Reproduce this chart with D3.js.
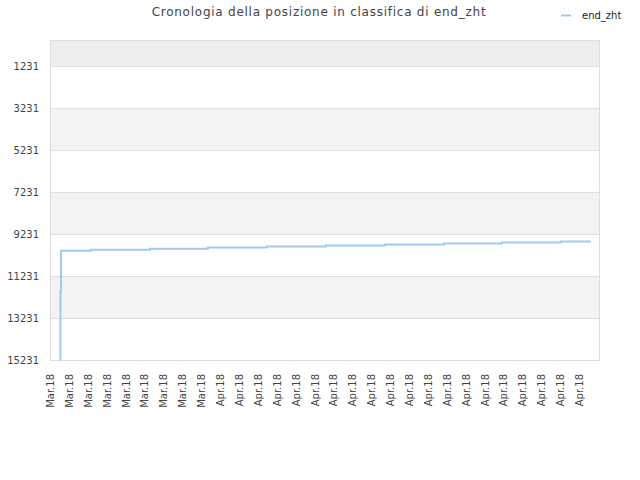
<!DOCTYPE html>
<html>
<head>
<meta charset="utf-8">
<script src="https://cdn.jsdelivr.net/npm/d3@7"></script>
<style>
  body { margin: 0; background: #fff; }
  svg { display: block; font-family: "DejaVu Sans", sans-serif; }
</style>
</head>
<body>
<svg id="chart" width="640" height="480"></svg>
<script>
// ---- data ----
const seriesName = "end_zht";
const titleText = "Cronologia della posizione in classifica di end_zht";
// x in days from first tick, rank value
const pointDays = [0.53, 0.55, 0.58, 2.17, 5.29, 8.36, 11.48, 14.60, 17.72, 20.85, 23.92, 27.04, 28.62];
const pointRanks = [15231, 11979, 10026, 9978, 9930, 9882, 9834, 9786, 9738, 9690, 9642, 9594, 9594];
const yTicks = [1231, 3231, 5231, 7231, 9231, 11231, 13231, 15231];
const xTickDays = d3.range(0, 29);
const xTickLabels = [
  "Mar.18","Mar.18","Mar.18","Mar.18","Mar.18","Mar.18","Mar.18","Mar.18","Mar.18",
  "Apr.18","Apr.18","Apr.18","Apr.18","Apr.18","Apr.18","Apr.18","Apr.18","Apr.18","Apr.18",
  "Apr.18","Apr.18","Apr.18","Apr.18","Apr.18","Apr.18","Apr.18","Apr.18","Apr.18","Apr.18"
];

(function () {
// ---- layout ----
const mLeft = 50, mRight = 600, mTop = 40, mBottom = 360;
const svg = d3.select("#chart");

const x = d3.scaleLinear().domain([0, 29.11]).range([mLeft, mRight]);
const y = d3.scaleLinear().domain([0, 15231]).range([mTop, mBottom]);

// bands
const bandEdges = [0].concat(yTicks);
const bands = [];
for (let i = 0; i < bandEdges.length - 1; i++) bands.push([bandEdges[i], bandEdges[i + 1], i]);
svg.append("g").selectAll("rect").data(bands).join("rect")
  .attr("x", mLeft).attr("width", mRight - mLeft)
  .attr("y", d => y(d[0])).attr("height", d => y(d[1]) - y(d[0]))
  .attr("fill", d => d[2] === 0 ? "#eeeeee" : (d[2] % 2 === 0 ? "#f3f3f3" : "#ffffff"));

// grid lines
svg.append("g").selectAll("line").data(yTicks).join("line")
  .attr("x1", mLeft).attr("x2", mRight)
  .attr("y1", d => y(d) + 0.5).attr("y2", d => y(d) + 0.5)
  .attr("stroke", "#dddddd").attr("stroke-width", 1);

// border
svg.append("rect")
  .attr("x", mLeft + 0.5).attr("y", mTop + 0.5)
  .attr("width", mRight - mLeft - 1).attr("height", mBottom - mTop)
  .attr("fill", "none").attr("stroke", "#dddddd");

// y axis
const yAxis = d3.axisLeft(y).tickValues(yTicks).tickSize(0).tickPadding(0).tickFormat(d => String(d));
const gy = svg.append("g").attr("transform", `translate(${mLeft - 11},0)`).call(yAxis);
gy.select(".domain").remove();
gy.selectAll("text").attr("font-size", 10).attr("fill", "#444").attr("font-family", "DejaVu Sans, sans-serif");

// x axis
const xAxis = d3.axisBottom(x).tickValues(xTickDays).tickSize(0).tickPadding(0)
  .tickFormat((d, i) => xTickLabels[i]);
const gx = svg.append("g").attr("transform", `translate(0,${mBottom})`).call(xAxis);
gx.select(".domain").remove();
gx.selectAll("text")
  .attr("font-size", 10).attr("fill", "#444").attr("font-family", "DejaVu Sans, sans-serif")
  .attr("text-anchor", "end")
  .attr("dy", "0.35em")
  .attr("transform", "translate(0,14) rotate(-90)")
  .attr("x", 0).attr("y", 0);

// line
const pts = pointDays.map((d, i) => [d, pointRanks[i]]);
const line = d3.line().x(d => x(d[0])).y(d => y(d[1])).curve(d3.curveStepAfter);
svg.append("path").datum(pts)
  .attr("d", line)
  .attr("fill", "none")
  .attr("stroke", "#9ecaf2")
  .attr("stroke-width", 2);

// title
svg.append("text").attr("x", 319).attr("y", 16)
  .attr("text-anchor", "middle").attr("font-size", 12).attr("fill", "#444")
  .attr("letter-spacing", "0.75px")
  .text(titleText);

// legend
svg.append("line").attr("x1", 561).attr("x2", 571).attr("y1", 15.5).attr("y2", 15.5)
  .attr("stroke", "#9ecaf2").attr("stroke-width", 2);
svg.append("text").attr("x", 582).attr("y", 19).attr("font-size", 10).attr("fill", "#222")
  .text(seriesName);
})();
</script>
</body>
</html>
